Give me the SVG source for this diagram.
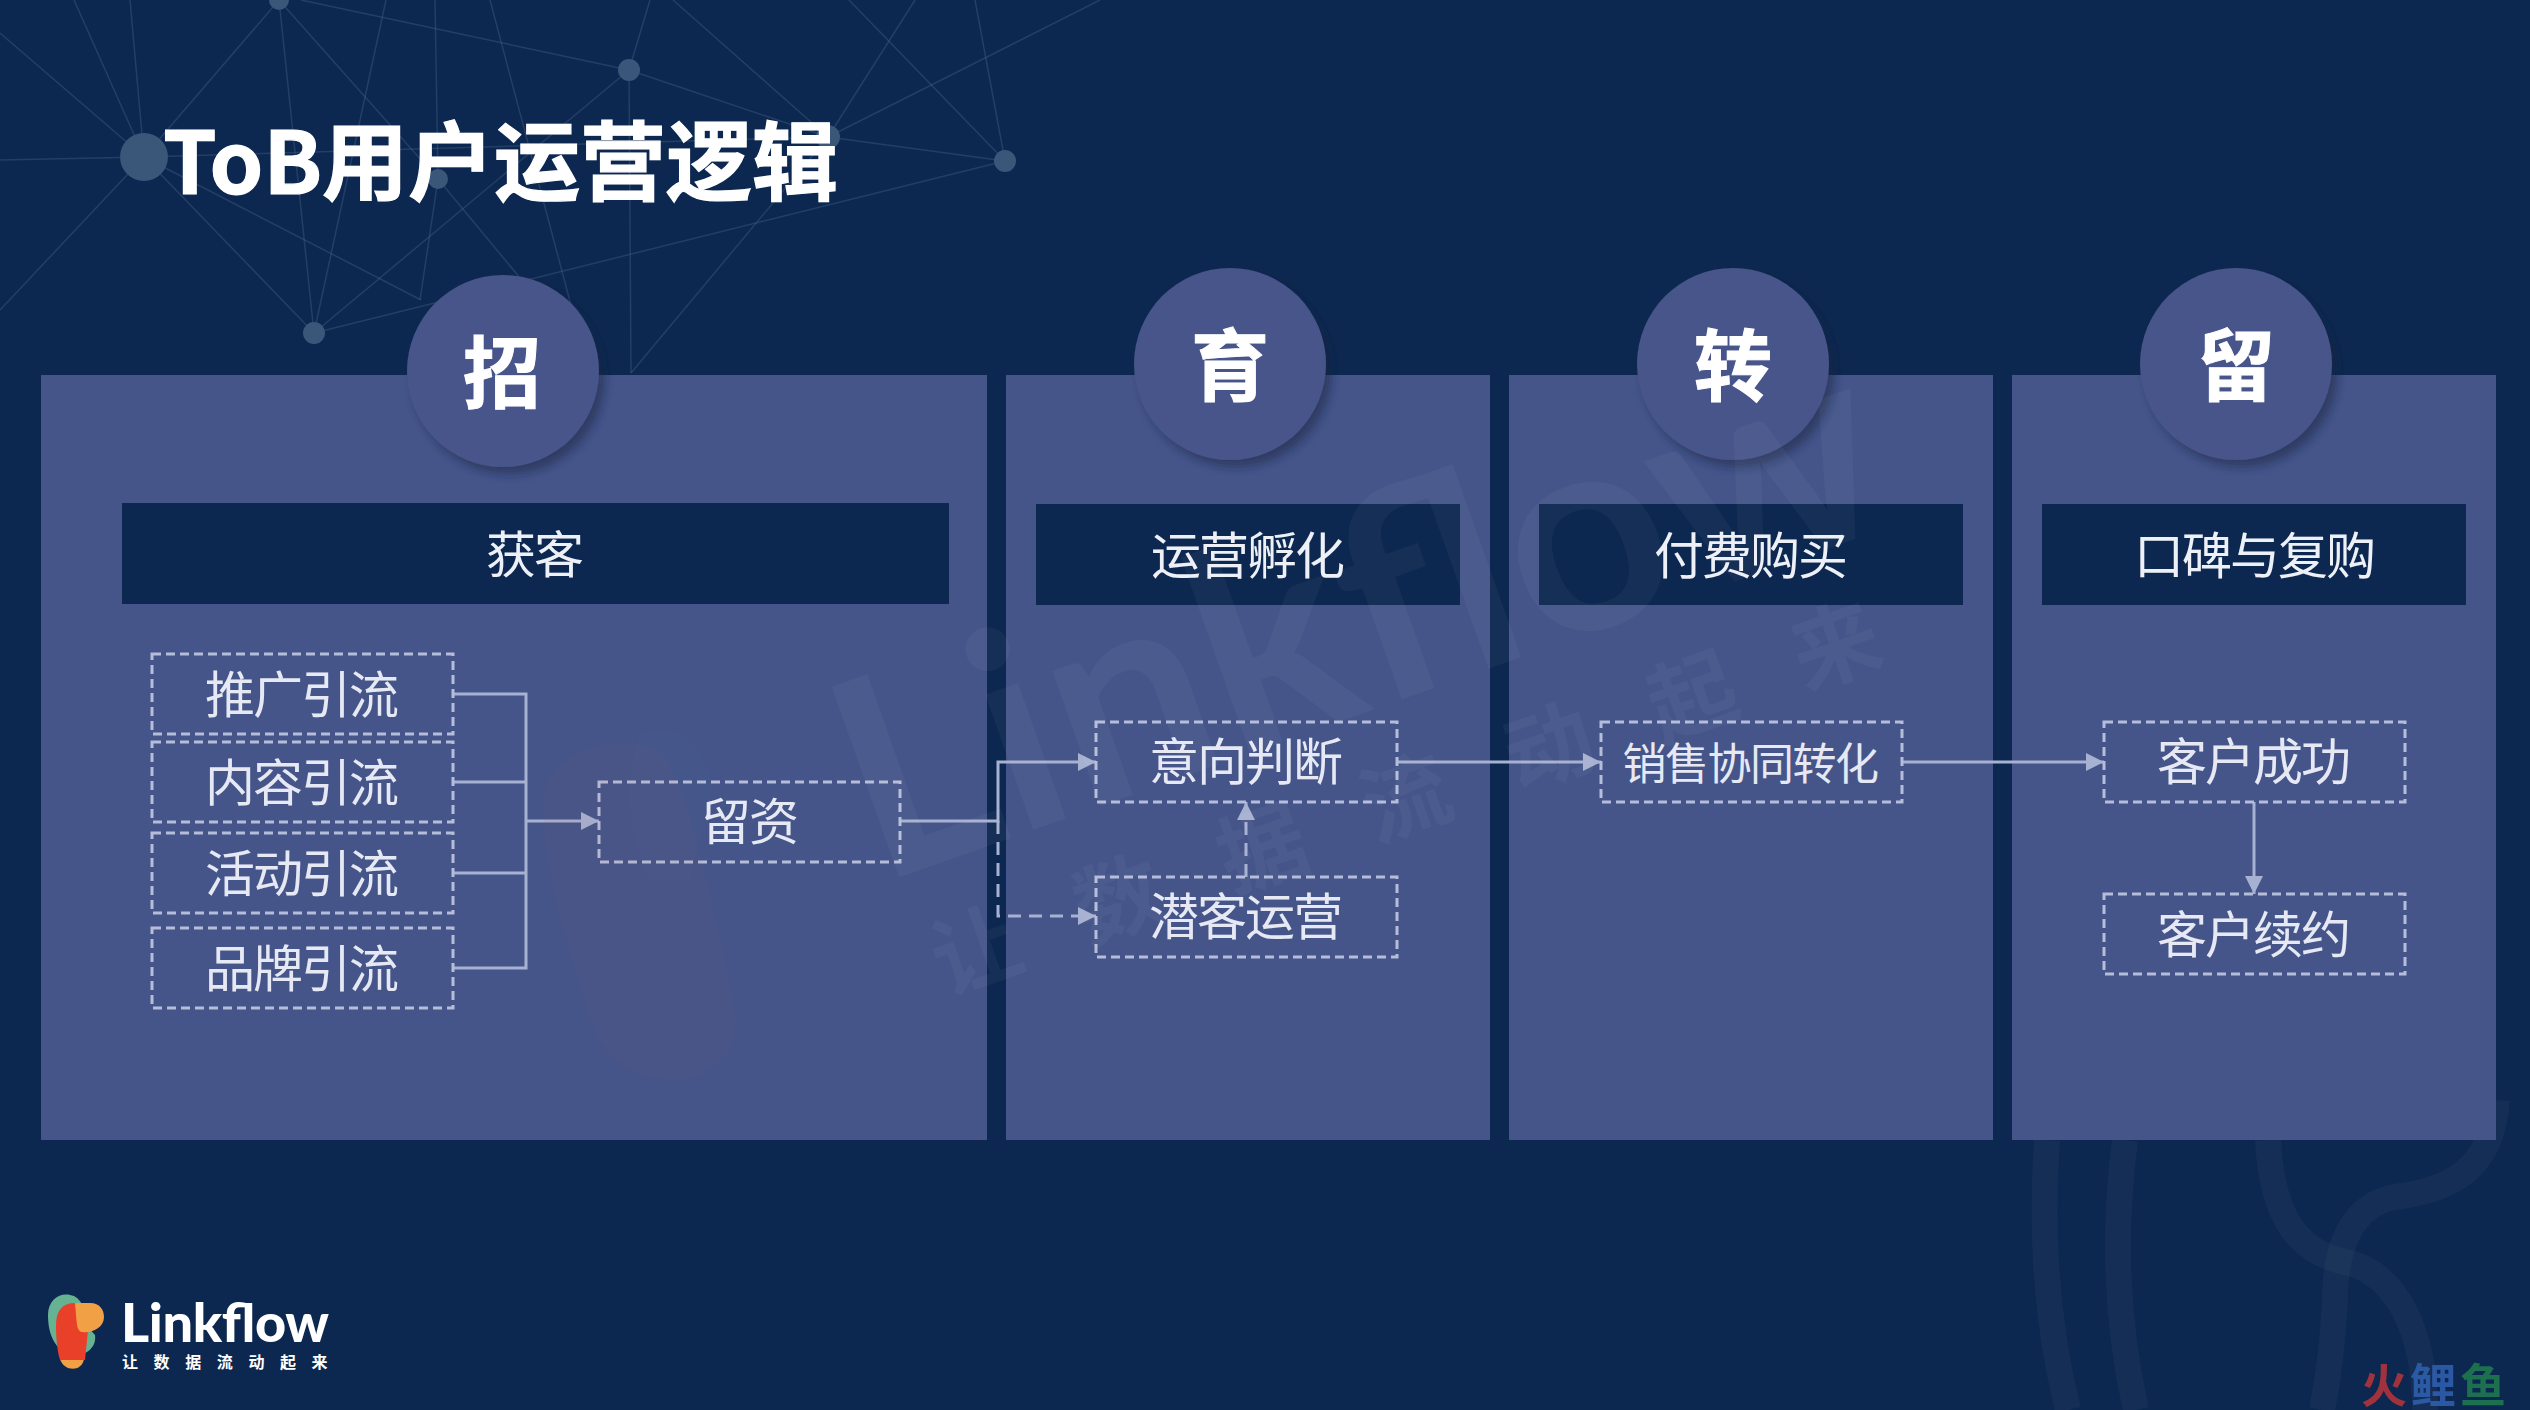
<svg xmlns="http://www.w3.org/2000/svg" width="2530" height="1410" viewBox="0 0 2530 1410">
<defs>
<style>
.panel{fill:#45558a}
.bar{fill:#0d2850}
.disc{fill:#46558a;filter:url(#ds)}
.disc-t{font:700 78px "Noto Sans CJK SC",sans-serif;fill:#fff;text-anchor:middle;stroke:#fff;stroke-width:1}
.hd{font:400 50px "Noto Sans CJK SC",sans-serif;fill:#eef0f7;text-anchor:middle;letter-spacing:-2px}
.box{fill:none;stroke:#b6bdd9;stroke-width:3;stroke-dasharray:9 5}
.lb{font:400 50px "Noto Sans CJK SC",sans-serif;fill:#e6e9f3;text-anchor:middle;letter-spacing:-2px}
.c{fill:none;stroke:#a7b1d1;stroke-width:3}
.d{fill:none;stroke:#a7b1d1;stroke-width:3;stroke-dasharray:13 8}
.net line{stroke:#4a6488;stroke-width:1.5;stroke-opacity:.38}
.net circle{fill:#3a5679}
.curve{fill:none;stroke:#fff;stroke-opacity:.03;stroke-width:26}
</style>
<filter id="ds" x="-20%" y="-20%" width="150%" height="150%"><feDropShadow dx="6" dy="7" stdDeviation="5" flood-color="#0a1b3c" flood-opacity=".5"/></filter>
<marker id="a" markerUnits="userSpaceOnUse" markerWidth="20" markerHeight="20" refX="18" refY="9" orient="auto"><path d="M0 0L18 9L0 18Z" fill="#a7b1d1"/></marker>
</defs>
<rect width="2530" height="1410" fill="#0d2850"/>
<g class="net">
<line x1="74" y1="0" x2="144" y2="157"/><line x1="130" y1="0" x2="144" y2="157"/><line x1="0" y1="33" x2="144" y2="157"/><line x1="0" y1="160" x2="144" y2="157"/><line x1="144" y1="157" x2="0" y2="310"/>
<line x1="279" y1="0" x2="144" y2="157"/><line x1="279" y1="0" x2="314" y2="333"/><line x1="279" y1="0" x2="438" y2="179"/><line x1="144" y1="157" x2="314" y2="333"/><line x1="144" y1="157" x2="421" y2="300"/><line x1="144" y1="157" x2="828" y2="137"/>
<line x1="438" y1="179" x2="530" y2="290"/><line x1="435" y1="0" x2="438" y2="179"/><line x1="386" y1="0" x2="314" y2="333"/><line x1="301" y1="0" x2="629" y2="70"/><line x1="629" y1="70" x2="828" y2="137"/><line x1="629" y1="70" x2="314" y2="333"/><line x1="629" y1="70" x2="631" y2="373"/><line x1="490" y1="0" x2="589" y2="373"/>
<line x1="673" y1="0" x2="828" y2="137"/><line x1="915" y1="0" x2="828" y2="137"/><line x1="1100" y1="0" x2="828" y2="137"/><line x1="849" y1="0" x2="1005" y2="161"/><line x1="975" y1="0" x2="1005" y2="161"/><line x1="828" y1="137" x2="1005" y2="161"/><line x1="314" y1="333" x2="1005" y2="161"/><line x1="828" y1="137" x2="631" y2="373"/><line x1="650" y1="0" x2="629" y2="70"/><line x1="438" y1="179" x2="420" y2="300"/>
<circle cx="144" cy="157" r="24"/><circle cx="629" cy="70" r="11"/><circle cx="828" cy="137" r="12"/><circle cx="1005" cy="161" r="11"/><circle cx="314" cy="333" r="11"/><circle cx="279" cy="0" r="10"/><circle cx="438" cy="179" r="10"/>
</g>
<g id="bg-curves">
<path class="curve" d="M2047 1140C2040 1240 2048 1330 2068 1410"/>
<path class="curve" d="M2125 1140C2112 1240 2118 1330 2136 1410"/>
<path class="curve" d="M2268 1140C2272 1220 2300 1252 2345 1262C2395 1272 2425 1330 2425 1410"/>
<path class="curve" d="M2497 1100C2492 1170 2450 1190 2395 1197C2350 1205 2335 1250 2335 1300C2333 1340 2328 1380 2322 1410"/>
</g>
<g id="panel-zhao"><rect class="panel" x="41" y="375" width="946" height="765"/><rect class="bar" x="122" y="503" width="827" height="101"/><circle class="disc" cx="503" cy="371" r="96"/><text class="disc-t" x="502" y="402">招</text><text class="hd" x="534" y="573">获客</text></g>
<g id="panel-yu"><rect class="panel" x="1006" y="375" width="484" height="765"/><rect class="bar" x="1036" y="504" width="424" height="101"/><circle class="disc" cx="1230" cy="364" r="96"/><text class="disc-t" x="1230" y="395">育</text><text class="hd" x="1247" y="574">运营孵化</text></g>
<g id="panel-zhuan"><rect class="panel" x="1509" y="375" width="484" height="765"/><rect class="bar" x="1539" y="504" width="424" height="101"/><circle class="disc" cx="1733" cy="364" r="96"/><text class="disc-t" x="1733" y="395">转</text><text class="hd" x="1750" y="574">付费购买</text></g>
<g id="panel-liu"><rect class="panel" x="2012" y="375" width="484" height="765"/><rect class="bar" x="2042" y="504" width="424" height="101"/><circle class="disc" cx="2236" cy="364" r="96"/><text class="disc-t" x="2236" y="395">留</text><text class="hd" x="2254" y="574">口碑与复购</text></g>
<g id="connectors">
<path class="c" d="M453 694H526V968H453M453 782H526M453 873H526"/>
<path class="c" d="M526 821H599" marker-end="url(#a)"/>
<path class="c" d="M900 821H998V762H1096" marker-end="url(#a)"/>
<path class="d" d="M998 821V916H1096" marker-end="url(#a)"/>
<path class="d" d="M1246 877V802" marker-end="url(#a)"/>
<path class="c" d="M1397 762H1601" marker-end="url(#a)"/>
<path class="c" d="M1901 762H2104" marker-end="url(#a)"/>
<path class="c" d="M2254 802V894" marker-end="url(#a)"/>
</g>
<g id="n-tuiguang"><rect class="box" x="152" y="654" width="301" height="80"/><text class="lb" x="301" y="713">推广引流</text></g>
<g id="n-neirong"><rect class="box" x="152" y="742" width="301" height="80"/><text class="lb" x="301" y="801">内容引流</text></g>
<g id="n-huodong"><rect class="box" x="152" y="833" width="301" height="80"/><text class="lb" x="301" y="892">活动引流</text></g>
<g id="n-pinpai"><rect class="box" x="152" y="928" width="301" height="80"/><text class="lb" x="301" y="987">品牌引流</text></g>
<g id="n-liuzi"><rect class="box" x="599" y="782" width="301" height="80"/><text class="lb" x="749" y="840">留资</text></g>
<g id="n-yixiang"><rect class="box" x="1096" y="722" width="301" height="80"/><text class="lb" x="1245" y="780">意向判断</text></g>
<g id="n-qianke"><rect class="box" x="1096" y="877" width="301" height="80"/><text class="lb" x="1245" y="935">潜客运营</text></g>
<g id="n-xiaoshou"><rect class="box" x="1601" y="722" width="301" height="80"/><text class="lb" x="1750" y="780" style="font-size:44px;letter-spacing:-1.5px">销售协同转化</text></g>
<g id="n-chenggong"><rect class="box" x="2104" y="722" width="301" height="80"/><text class="lb" x="2253" y="780">客户成功</text></g>
<g id="n-xuyue"><rect class="box" x="2104" y="894" width="301" height="80"/><text class="lb" x="2253" y="953">客户续约</text></g>
<g id="watermark">
<path d="M545 790C555 745 640 725 668 760C690 800 720 930 735 1010C742 1060 700 1085 665 1080C625 1075 600 1050 590 1020C570 950 535 850 545 790Z" fill="#c0392b" fill-opacity=".035"/>
<path d="M640 735C680 720 705 745 712 790L690 880L650 880C630 840 620 780 640 735Z" fill="#6fc0a0" fill-opacity=".02"/>
<text transform="translate(878 885) rotate(-19.5)" font-family="Lato,sans-serif" font-size="280" font-weight="700" fill="#fff" fill-opacity=".035" textLength="1085" lengthAdjust="spacing">Linkflow</text>
<text transform="translate(945 995) rotate(-19.5)" font-family="'Noto Sans CJK SC',sans-serif" font-size="88" font-weight="700" fill="#fff" fill-opacity=".035" letter-spacing="64">让数据流动起来</text>
</g>
<text id="title" x="163" y="194" font-family="'Noto Sans CJK SC',sans-serif" font-size="86" font-weight="700" fill="#fff" stroke="#fff" stroke-width="1.2">ToB用户运营逻辑</text>
<g id="logo">
<path d="M48 1315C48 1298 62 1291 74 1296C84 1301 86 1315 86 1325L95 1335C97 1348 85 1356 72 1356C55 1350 48 1335 48 1315Z" fill="#66b394"/>
<path d="M60 1359H84C82 1372 64 1372 60 1359Z" fill="#f2a046"/>
<path d="M56 1325C56 1311 62 1303 75 1303H84L88 1330L85 1360H60C57 1350 56 1338 56 1325Z" fill="#e9402a"/>
<path d="M75 1303H90C100 1303 104 1310 104 1317C104 1328 92 1333 82 1332C77 1331 77 1325 76 1315Z" fill="#f2a046"/>
<text x="121" y="1342" font-family="Lato,sans-serif" font-size="54" font-weight="900" fill="#fff" textLength="208" lengthAdjust="spacing">Linkflow</text>
<text x="122" y="1368" font-family="'Noto Sans CJK SC',sans-serif" font-size="16" font-weight="700" fill="#fff" letter-spacing="15.6">让数据流动起来</text>
</g>
<g id="credit" font-family="'Noto Sans CJK SC',sans-serif" font-size="46" font-weight="700" opacity=".88">
<text x="2361" y="1402" fill="#b5343c">火</text><text x="2410" y="1402" fill="#2f5fb0">鲤</text><text x="2460" y="1402" fill="#1f7a50">鱼</text>
</g>
</svg>
